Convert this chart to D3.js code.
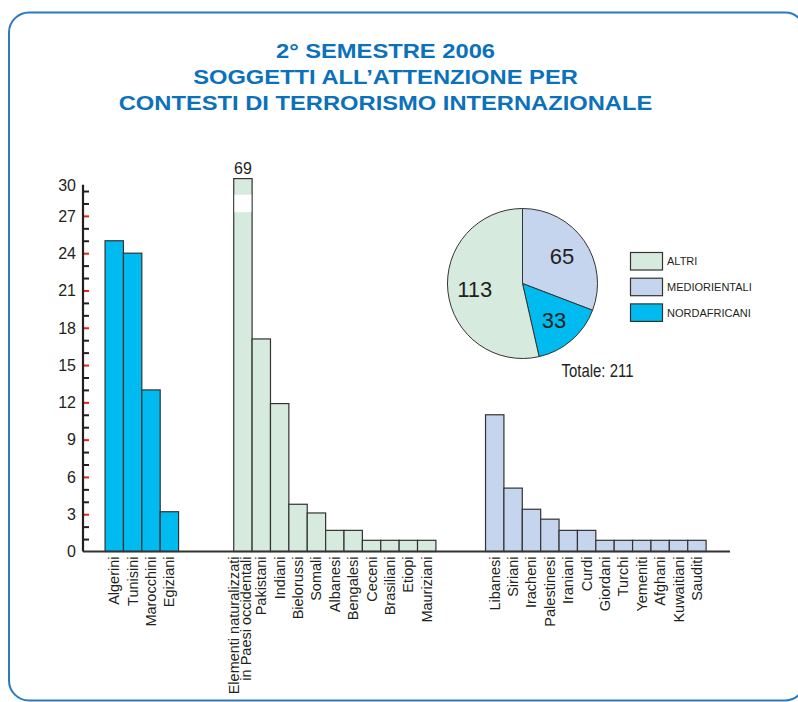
<!DOCTYPE html>
<html>
<head>
<meta charset="utf-8">
<script src="https://cdnjs.cloudflare.com/ajax/libs/d3/7.8.5/d3.min.js"></script>
<style>
  body { margin: 0; background: #fff; }
  text { font-family: "Liberation Sans", Arial, Helvetica, sans-serif; fill: #231f20; }
</style>
</head>
<body>
<div id="chart"></div>
<script>
// ---- data ----
var titleLines = ["2\u00B0 SEMESTRE 2006", "SOGGETTI ALL\u2019ATTENZIONE PER", "CONTESTI DI TERRORISMO INTERNAZIONALE"];

var nordafricani = ["Algerini", "Tunisini", "Marocchini", "Egiziani"];
var nordafricaniValues = [25, 24, 13, 3.2];

var altri = ["Elementi naturalizzati|in Paesi occidentali", "Pakistani", "Indiani", "Bielorussi", "Somali",
             "Albanesi", "Bengalesi", "Ceceni", "Brasiliani", "Etiopi", "Mauriziani"];
var altriValues = [69, 17.1, 11.9, 3.8, 3.1, 1.7, 1.7, 0.9, 0.9, 0.9, 0.9];

var mediorientali = ["Libanesi", "Siriani", "Iracheni", "Palestinesi", "Iraniani", "Curdi", "Giordani",
                     "Turchi", "Yemeniti", "Afghani", "Kuwaitiani", "Sauditi"];
var mediorientaliValues = [11, 5.1, 3.4, 2.6, 1.7, 1.7, 0.9, 0.9, 0.9, 0.9, 0.9, 0.9];

var pieKeys = ["MEDIORIENTALI", "NORDAFRICANI", "ALTRI"];
var pieValues = [65, 33, 113];
var legendKeys = ["ALTRI", "MEDIORIENTALI", "NORDAFRICANI"];
var totalLabel = "Totale: 211";

var yTickValues = [0, 3, 6, 9, 12, 15, 18, 21, 24, 27, 30];
var yMinorTicks = d3.range(1, 30);

// ---- look ----
var colors = { NORDAFRICANI: "#00bbef", ALTRI: "#d6ebdd", MEDIORIENTALI: "#c6d5ee" };
var blue = "#0b71bb";
var ink = "#333333";

var W = 798, H = 702;
var svg = d3.select("#chart").append("svg")
  .attr("width", W)
  .attr("height", H);

// frame
svg.append("rect")
  .attr("x", 9).attr("y", 12.5)
  .attr("width", 796).attr("height", 688)
  .attr("rx", 20)
  .attr("fill", "none")
  .attr("stroke", "#2a7abd")
  .attr("stroke-width", 2);

// title
titleLines.forEach(function(t, i) {
  svg.append("g")
    .attr("transform", "translate(385.5," + (57.5 + i * 26.3) + ") scale(1.13,1)")
    .append("text")
    .attr("text-anchor", "middle")
    .style("font-size", "21px")
    .style("font-weight", "bold")
    .style("fill", blue)
    .text(t);
});

// scales
var y = d3.scaleLinear().domain([0, 30]).range([551.5, 178.6]);
var axisX = 83;
var x = d3.scaleLinear().domain([0, 35.2]).range([axisX, 730]);
var bw = x(1) - x(0);

// flatten groups onto slots
var groups = [
  { key: "NORDAFRICANI", start: 1.2, names: nordafricani, values: nordafricaniValues },
  { key: "ALTRI", start: 8.2, names: altri, values: altriValues },
  { key: "MEDIORIENTALI", start: 21.9, names: mediorientali, values: mediorientaliValues }
];
var bars = [];
groups.forEach(function(g) {
  g.names.forEach(function(n, i) {
    bars.push({ group: g.key, name: n, value: g.values[i], slot: g.start + i });
  });
});

var g = svg.append("g");

// bars
g.selectAll("rect.bar")
  .data(bars)
  .enter().append("rect")
  .attr("class", "bar")
  .attr("x", d => x(d.slot))
  .attr("y", d => y(Math.min(d.value, 30)))
  .attr("width", bw)
  .attr("height", d => y(0) - y(Math.min(d.value, 30)))
  .attr("fill", d => colors[d.group])
  .attr("stroke", ink)
  .attr("stroke-width", 1.2);

// broken bar: white band + real value on top
var broken = bars.filter(d => d.value > 30);
g.selectAll("rect.break")
  .data(broken)
  .enter().append("rect")
  .attr("x", d => x(d.slot) + 0.8)
  .attr("y", y(28.7))
  .attr("width", bw - 1.6)
  .attr("height", y(27.3) - y(28.7))
  .attr("fill", "#fff");
g.selectAll("text.brk")
  .data(broken)
  .enter().append("text")
  .attr("x", d => x(d.slot) + bw / 2)
  .attr("y", y(30) - 5)
  .attr("text-anchor", "middle")
  .style("font-size", "16px")
  .text(d => d.value);

// x axis line
g.append("line")
  .attr("x1", axisX).attr("x2", x(35.2))
  .attr("y1", y(0)).attr("y2", y(0))
  .attr("stroke", ink)
  .attr("stroke-width", 2);

// y axis: ticks point inward, every third one red
var yAxisG = g.append("g").attr("transform", "translate(" + axisX + ",0)");
yAxisG.call(d3.axisRight(y).tickValues(yMinorTicks).tickSize(6).tickFormat(""));
yAxisG.select(".domain").remove();
yAxisG.selectAll(".tick line")
  .attr("stroke", d => d % 3 === 0 ? "#e2231a" : "#231f20")
  .attr("stroke-width", 2);
yAxisG.append("line")
  .attr("x1", 0).attr("x2", 0)
  .attr("y1", y(0)).attr("y2", y(29.5))
  .attr("stroke", "#231f20")
  .attr("stroke-width", 2.2);
g.selectAll("text.ytick")
  .data(yTickValues)
  .enter().append("text")
  .attr("x", axisX - 7)
  .attr("y", d => y(Math.min(d, 29.5)))
  .attr("dy", "0.36em")
  .attr("text-anchor", "end")
  .style("font-size", "16px")
  .text(d => d);

// category labels, rotated
bars.forEach(function(d) {
  var lines = d.name.split("|");
  var cx = x(d.slot) + bw / 2;
  var offs = lines.length > 1 ? [-9, 3.5] : [0];
  lines.forEach(function(l, i) {
    g.append("text")
      .attr("transform", "translate(" + (cx + offs[i]) + "," + (y(0) + 5) + ") rotate(-90)")
      .attr("text-anchor", "end")
      .attr("dominant-baseline", "central")
      .style("font-size", "14.5px")
      .text(l);
  });
});

// pie
var pieG = svg.append("g").attr("transform", "translate(522.5,283.5)");
var pie = d3.pie().sort(null).value(d => d.value);
var arcs = pie(pieKeys.map((k, i) => ({ key: k, value: pieValues[i] })));
var arc = d3.arc().innerRadius(0).outerRadius(75);
var labelArc = d3.arc().innerRadius(48).outerRadius(48);

pieG.selectAll("path")
  .data(arcs)
  .enter().append("path")
  .attr("d", arc)
  .attr("fill", d => colors[d.data.key])
  .attr("stroke", ink)
  .attr("stroke-width", 1);
pieG.selectAll("text")
  .data(arcs)
  .enter().append("text")
  .attr("transform", d => "translate(" + labelArc.centroid(d) + ")")
  .attr("text-anchor", "middle")
  .attr("dy", "0.36em")
  .style("font-size", "22px")
  .text(d => d.data.value);

// condensed total label
svg.append("g")
  .attr("transform", "translate(561.5,376.5) scale(0.83,1)")
  .append("text")
  .style("font-size", "18px")
  .text(totalLabel);

// legend
var legend = svg.append("g").attr("transform", "translate(630.5,252.5)");
var item = legend.selectAll("g")
  .data(legendKeys)
  .enter().append("g")
  .attr("transform", (d, i) => "translate(0," + i * 25.7 + ")");
item.append("rect")
  .attr("width", 32).attr("height", 17.5)
  .attr("fill", d => colors[d])
  .attr("stroke", ink)
  .attr("stroke-width", 1.2);
item.append("text")
  .attr("x", 36.5).attr("y", 8.75)
  .attr("dy", "0.36em")
  .style("font-size", "11px")
  .text(d => d);
</script>
</body>
</html>
